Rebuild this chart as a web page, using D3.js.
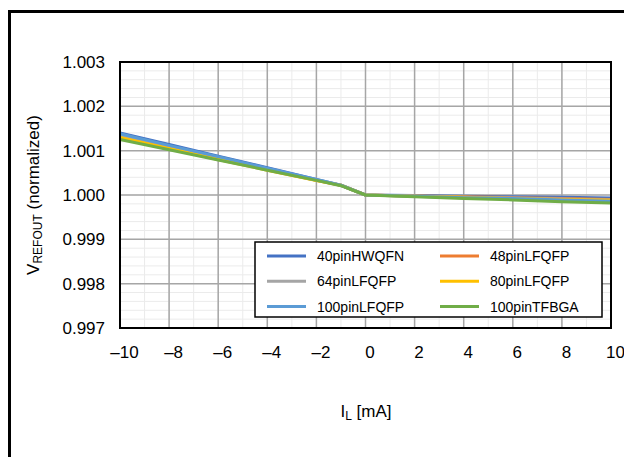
<!DOCTYPE html>
<html><head><meta charset="utf-8">
<script src="https://cdn.jsdelivr.net/npm/d3@7"></script>
<style>body{margin:0;background:#fff;}svg{display:block;font-family:"Liberation Sans",Arial,sans-serif;}</style>
</head><body><svg id="c" width="624" height="457"></svg>
<script>
const xValues = [-10, -8, -6, -4, -2, -1, 0, 2, 4, 6, 8, 10];
const seriesNames = ["40pinHWQFN", "48pinLFQFP", "64pinLFQFP", "80pinLFQFP", "100pinLFQFP", "100pinTFBGA"];
const seriesColors = ["#4472C4", "#ED7D31", "#A5A5A5", "#FFC000", "#5B9BD5", "#70AD47"];
const s40pinHWQFN  = [1.00140, 1.001138, 1.000876, 1.000615, 1.000353, 1.00022, 1.00000, 0.99999, 0.99997, 0.99996, 0.99995, 0.99993];
const s48pinLFQFP  = [1.00132, 1.001070, 1.000820, 1.000570, 1.000330, 1.00022, 1.00000, 0.99998, 0.99996, 0.99994, 0.99992, 0.99990];
const s64pinLFQFP  = [1.00134, 1.001085, 1.000830, 1.000580, 1.000335, 1.00022, 1.00000, 0.99998, 0.99995, 0.99993, 0.99991, 0.99989];
const s80pinLFQFP  = [1.00130, 1.001050, 1.000800, 1.000560, 1.000325, 1.00022, 1.00000, 0.99997, 0.99995, 0.99992, 0.99990, 0.99988];
const s100pinLFQFP = [1.00138, 1.001120, 1.000865, 1.000605, 1.000350, 1.00022, 1.00000, 0.99997, 0.99994, 0.99992, 0.99989, 0.99986];
const s100pinTFBGA = [1.00125, 1.001020, 1.000790, 1.000560, 1.000330, 1.00021, 1.00000, 0.99996, 0.99992, 0.99989, 0.99985, 0.99982];
const seriesValues = [s40pinHWQFN, s48pinLFQFP, s64pinLFQFP, s80pinLFQFP, s100pinLFQFP, s100pinTFBGA];
const xTicks = [-10, -8, -6, -4, -2, 0, 2, 4, 6, 8, 10];
const yTicks = [0.997, 0.998, 0.999, 1.000, 1.001, 1.002, 1.003];

const FONT = "'Liberation Sans',Arial,sans-serif";
const svg = d3.select("#c");
const L = 120, R = 611, T = 62, B = 328;
const x = d3.scaleLinear().domain([-10, 10]).range([L, R]);
const y = d3.scaleLinear().domain([0.997, 1.003]).range([B, T]);

// outer frame
svg.append("rect").attr("x", 9.5).attr("y", 11.5).attr("width", 640).attr("height", 480)
  .attr("fill", "none").attr("stroke", "#000").attr("stroke-width", 3);

const g = svg.append("g");
// minor grid
const xMinor = d3.range(-10, 10.01, 1);
const yMinor = d3.range(0, 31).map(i => 0.997 + i * 0.0002);
g.selectAll(".xm").data(xMinor).join("line")
  .attr("x1", d => x(d)).attr("x2", d => x(d)).attr("y1", T).attr("y2", B)
  .attr("stroke", "#EBEBEB").attr("stroke-width", 1);
g.selectAll(".ym").data(yMinor).join("line")
  .attr("y1", d => y(d)).attr("y2", d => y(d)).attr("x1", L).attr("x2", R)
  .attr("stroke", "#EBEBEB").attr("stroke-width", 1);
// major grid
g.selectAll(".xg").data(xTicks).join("line")
  .attr("x1", d => x(d)).attr("x2", d => x(d)).attr("y1", T).attr("y2", B)
  .attr("stroke", "#A6A6A6").attr("stroke-width", 1.5);
g.selectAll(".yg").data(yTicks).join("line")
  .attr("y1", d => y(d)).attr("y2", d => y(d)).attr("x1", L).attr("x2", R)
  .attr("stroke", "#A6A6A6").attr("stroke-width", 1.5);

// series
const line = d3.line().x((d, i) => x(xValues[i])).y(d => y(d));
seriesValues.forEach((vals, k) => {
  svg.append("path").attr("d", line(vals)).attr("fill", "none")
    .attr("stroke", seriesColors[k]).attr("stroke-width", 3).attr("stroke-linejoin", "round");
});

// plot frame
svg.append("rect").attr("x", L).attr("y", T).attr("width", R - L).attr("height", B - T)
  .attr("fill", "none").attr("stroke", "#000").attr("stroke-width", 2);

// axes labels
const xAxis = d3.axisBottom(x).tickValues(xTicks).tickSize(0).tickPadding(0)
  .tickFormat(d => (d < 0 ? "\u2013" + Math.abs(d) : String(d)));
const xa = svg.append("g").attr("transform", `translate(4,${B + 18})`).call(xAxis);
xa.select(".domain").remove();
xa.selectAll("text").attr("font-size", 17).attr("fill", "#000").attr("font-family", FONT);

const yAxis = d3.axisLeft(y).tickValues(yTicks).tickSize(0).tickPadding(0).tickFormat(d3.format(".3f"));
const ya = svg.append("g").attr("transform", `translate(${L - 15},0)`).call(yAxis);
ya.select(".domain").remove();
ya.selectAll("text").attr("font-size", 17).attr("fill", "#000").attr("font-family", FONT);

// axis titles
const xt = svg.append("text").attr("x", 366).attr("y", 417).attr("text-anchor", "middle")
  .attr("font-size", 17).attr("fill", "#000").attr("font-family", FONT);
xt.append("tspan").text("I");
xt.append("tspan").attr("font-size", 12).attr("dy", 3).text("L");
xt.append("tspan").attr("dy", -3).text(" [mA]");

const yt = svg.append("text").attr("transform", "translate(39,195) rotate(-90)").attr("text-anchor", "middle")
  .attr("font-size", 17).attr("fill", "#000").attr("font-family", FONT);
yt.append("tspan").text("V");
yt.append("tspan").attr("font-size", 12).attr("dy", 3).text("REFOUT");
yt.append("tspan").attr("dy", -3).text(" (normalized)");

// legend
const lg = svg.append("g");
lg.append("rect").attr("x", 255).attr("y", 242).attr("width", 347).attr("height", 75)
  .attr("fill", "#fff").attr("stroke", "#000").attr("stroke-width", 1.5);
seriesNames.forEach((name, k) => {
  const col = k % 2, row = Math.floor(k / 2);
  const lx = 267 + col * 173, ly = 256 + row * 25.3;
  lg.append("line").attr("x1", lx).attr("x2", lx + 39).attr("y1", ly).attr("y2", ly)
    .attr("stroke", seriesColors[k]).attr("stroke-width", 3);
  lg.append("text").attr("x", lx + 50).attr("y", ly + 5).attr("font-size", 14).attr("fill", "#000")
    .attr("font-family", FONT).text(name);
});
</script></body></html>
